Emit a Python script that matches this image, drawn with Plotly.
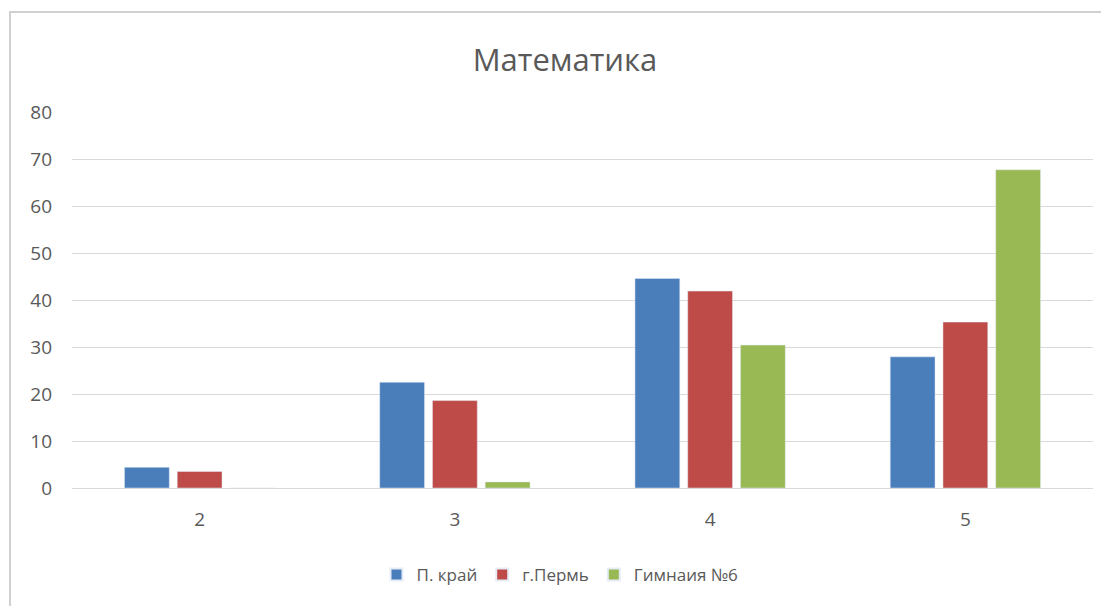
import plotly.graph_objects as go

categories = ["2", "3", "4", "5"]
series_names = ["П. край", "г.Пермь", "Гимнаия №6"]
kray = [4.4, 22.5, 44.6, 27.9]
perm = [3.5, 18.6, 41.9, 35.3]
gymnasium = [0, 1.3, 30.4, 67.7]

COLORS = ["#4A7EBB", "#BE4B48", "#98B954"]
TEXT = "#595959"
GRID = "#D9D9D9"

# the page puts the figure 8px in from the top-left corner
OFF = 8
W, H = 1109 - OFF, 606 - OFF
# plot area in reference pixels
L, R, T, B = 72, 1093, 112, 488

fig = go.Figure()
for name, values, color in zip(series_names, [kray, perm, gymnasium], COLORS):
    fig.add_trace(go.Bar(x=categories, y=values, name=name, marker_color=color))


def px_x(p):
    return (p - L) / (R - L)


def px_y(p):
    return (B - p) / (B - T)


fig.update_layout(
    width=W,
    height=H,
    margin=dict(l=L - OFF, r=W - (R - OFF), t=T - OFF, b=H - (B - OFF)),
    paper_bgcolor="white",
    plot_bgcolor="white",
    font=dict(family="Open Sans, Liberation Sans, sans-serif", size=19, color=TEXT),
    barmode="group",
    bargap=0.38,
    bargroupgap=0.15,
    title=dict(
        text="Математика",
        x=px_x(565),
        xref="paper",
        xanchor="center",
        y=1 - (60 - OFF) / H,
        yanchor="middle",
        font=dict(size=31, color=TEXT),
    ),
    legend=dict(
        orientation="h",
        x=px_x(560),
        xanchor="center",
        y=px_y(575),
        yanchor="middle",
        font=dict(size=17, color=TEXT),
        itemwidth=30,
        itemsizing="constant",
    ),
    showlegend=True,
    xaxis=dict(
        showgrid=False,
        showline=True,
        linecolor=GRID,
        linewidth=1,
        ticks="",
        ticklabelstandoff=14,
    ),
    yaxis=dict(
        range=[0, 80],
        dtick=10,
        showgrid=True,
        gridcolor=GRID,
        gridwidth=1,
        zeroline=False,
        ticks="",
        ticklabelstandoff=19,
    ),
    shapes=[
        dict(
            type="rect",
            xref="paper",
            yref="paper",
            x0=px_x(10),
            x1=px_x(1107),
            y0=px_y(612),
            y1=px_y(12),
            line=dict(color="#D0D0D0", width=2),
            fillcolor="rgba(0,0,0,0)",
            layer="below",
        )
    ],
)

fig.write_html("out.html")
